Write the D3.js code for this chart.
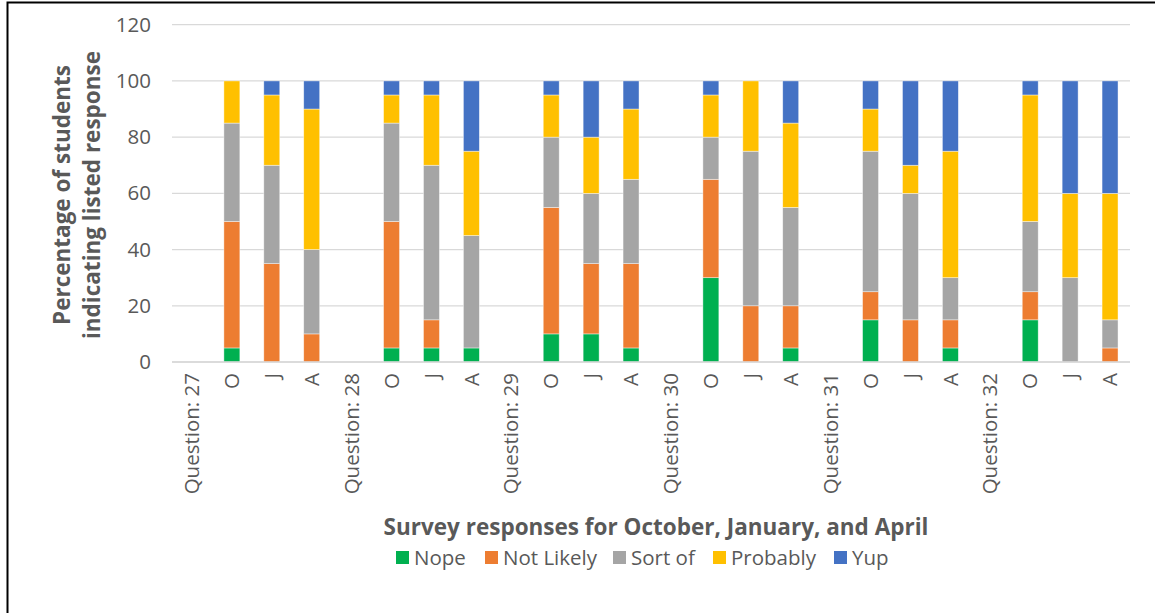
<!DOCTYPE html>
<html>
<head>
<meta charset="utf-8">
<script src="https://cdn.jsdelivr.net/npm/d3@7"></script>
<style>
  body { margin: 0; background: #fff; }
  text { font-family: "Open Sans", "Liberation Sans", sans-serif; fill: #595959; }
</style>
</head>
<body>
<div id="chart"></div>
<script>
// categories along the x axis
const categories = ["Question: 27", "O", "J", "A", "Question: 28", "O", "J", "A",
    "Question: 29", "O", "J", "A", "Question: 30", "O", "J", "A",
    "Question: 31", "O", "J", "A", "Question: 32", "O", "J", "A"];

const seriesNames = ["Nope", "Not Likely", "Sort of", "Probably", "Yup"];
const seriesColors = ["#00b050", "#ed7d31", "#a5a5a5", "#ffc000", "#4472c4"];

// series values (percent), one per category
const nope      = [0, 5, 0, 0,   0, 5, 5, 5,   0, 10, 10, 5,   0, 30, 0, 5,   0, 15, 0, 5,   0, 15, 0, 0];
const notLikely = [0, 45, 35, 10, 0, 45, 10, 0, 0, 45, 25, 30,  0, 35, 20, 15, 0, 10, 15, 10, 0, 10, 0, 5];
const sortOf    = [0, 35, 35, 30, 0, 35, 55, 40, 0, 25, 25, 30, 0, 15, 55, 35, 0, 50, 45, 15, 0, 25, 30, 10];
const probably  = [0, 15, 25, 50, 0, 10, 25, 30, 0, 15, 20, 25, 0, 15, 25, 30, 0, 15, 10, 45, 0, 45, 30, 45];
const yup       = [0, 0, 5, 10,   0, 5, 5, 25,   0, 5, 20, 10,   0, 5, 0, 15,   0, 10, 30, 25,  0, 5, 40, 40];

const yTicks = [0, 20, 40, 60, 80, 100, 120];

function main() {
    const width = 1155, height = 613;
    const svg = d3.select("#chart").append("svg")
        .attr("width", width)
        .attr("height", height);

    // outer frame
    svg.append("rect")
        .attr("x", 7.5).attr("y", 2.5)
        .attr("width", 1160).attr("height", 640)
        .attr("fill", "none")
        .attr("stroke", "#000")
        .attr("stroke-width", 2);

    const x = d3.scaleBand()
        .domain(d3.range(categories.length))
        .range([172, 1130])
        .paddingInner(0.6)
        .paddingOuter(0.3);

    const y = d3.scaleLinear().domain([0, 120]).range([362, 24.7]);

    // gridlines
    svg.append("g")
        .selectAll("line")
        .data(yTicks)
        .join("line")
        .attr("x1", 172).attr("x2", 1130)
        .attr("y1", d => y(d)).attr("y2", d => y(d))
        .attr("stroke", "#d9d9d9")
        .attr("stroke-width", 1.3);

    // y axis labels
    const yAxis = svg.append("g")
        .attr("transform", "translate(161,0)")
        .call(d3.axisLeft(y).tickValues(yTicks).tickSize(0).tickPadding(10));
    yAxis.select(".domain").remove();
    yAxis.selectAll("text")
        .attr("font-size", 20.5)
        .attr("font-family", "Open Sans, sans-serif")
        .attr("fill", "#595959");

    // stacked bars
    const table = categories.map((c, i) => ({
        "Nope": nope[i], "Not Likely": notLikely[i], "Sort of": sortOf[i],
        "Probably": probably[i], "Yup": yup[i], idx: i
    }));
    const stacked = d3.stack().keys(seriesNames)(table);
    const color = d3.scaleOrdinal().domain(seriesNames).range(seriesColors);

    svg.append("g")
        .selectAll("g")
        .data(stacked)
        .join("g")
        .attr("fill", d => color(d.key))
        .selectAll("rect")
        .data(d => d.filter(s => s[1] > s[0]))
        .join("rect")
        .attr("x", d => x(d.data.idx))
        .attr("width", x.bandwidth())
        .attr("y", d => y(d[1]))
        .attr("height", d => y(d[0]) - y(d[1]))
        .attr("stroke", "#ffffff")
        .attr("stroke-opacity", 0.6)
        .attr("stroke-width", 0.7);

    // x axis line
    svg.append("line")
        .attr("x1", 172).attr("x2", 1130)
        .attr("y1", y(0)).attr("y2", y(0))
        .attr("stroke", "#d9d9d9")
        .attr("stroke-width", 1.3);

    // x axis labels, rotated
    const xAxis = svg.append("g")
        .attr("transform", `translate(0,${y(0)})`)
        .call(d3.axisBottom(x).tickSize(0).tickFormat(i => categories[i]));
    xAxis.select(".domain").remove();
    xAxis.selectAll("text")
        .attr("font-size", 20.5)
        .attr("font-family", "Open Sans, sans-serif")
        .attr("fill", "#595959")
        .attr("transform", "rotate(-90)")
        .attr("text-anchor", "end")
        .attr("x", -11)
        .attr("y", 0)
        .attr("dy", "0.35em");

    // y title
    const yTitle = svg.append("text")
        .attr("transform", "translate(77,195) rotate(-90)")
        .attr("text-anchor", "middle")
        .attr("font-size", 22.5)
        .attr("font-weight", "bold");
    yTitle.append("tspan").attr("x", 0).attr("y", -7).text("Percentage of students");
    yTitle.append("tspan").attr("x", 0).attr("y", 23).text("indicating listed response");

    // x title
    svg.append("text")
        .attr("x", 656).attr("y", 535)
        .attr("text-anchor", "middle")
        .attr("font-size", 22.5)
        .attr("font-weight", "bold")
        .text("Survey responses for October, January, and April");

    // legend
    const legendX = [396, 485, 613, 713, 834];
    const legend = svg.append("g")
        .selectAll("g")
        .data(seriesNames)
        .join("g")
        .attr("transform", (d, i) => `translate(${legendX[i]},551)`);
    legend.append("rect")
        .attr("width", 13).attr("height", 13)
        .attr("fill", d => color(d));
    legend.append("text")
        .attr("x", 18).attr("y", 13.5)
        .attr("font-size", 20.5)
        .text(d => d);
}
main();
</script>
</body>
</html>
